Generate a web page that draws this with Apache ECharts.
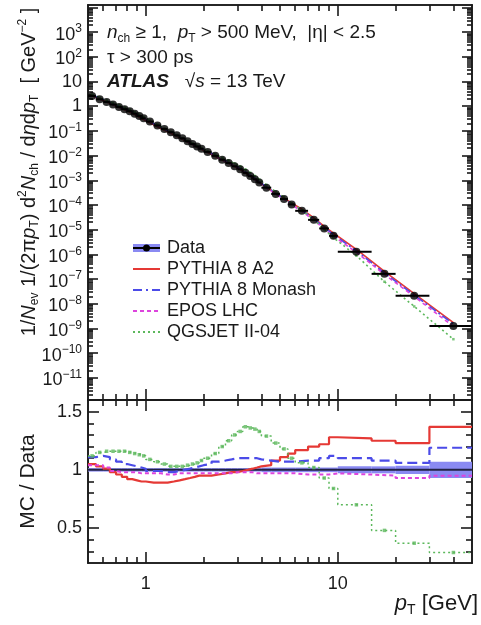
<!DOCTYPE html>
<html><head><meta charset="utf-8">
<script src="https://cdn.jsdelivr.net/npm/echarts@6.0.0/dist/echarts.min.js"></script>
<style>html,body{margin:0;padding:0;background:#fff;}#chart{width:481px;height:625px;}</style>
</head><body><div id="chart"></div>
<script>
// ---------------- data ----------------
const ptEdges = [0.5,0.55,0.6,0.65,0.7,0.75,0.8,0.85,0.9,0.95,1.0,1.1,1.2,1.3,1.4,1.5,1.6,1.7,1.8,1.9,2.0,2.2,2.4,2.6,2.8,3.0,3.2,3.4,3.6,3.8,4.0,4.5,5.0,5.5,6.0,7.0,8.0,9.0,10,15,20,30,50];
const dataVals = [2.6,1.91,1.48,1.17,0.93,0.76,0.63,0.50,0.40,0.324,
  0.24,0.166,0.12,0.089,0.066,0.050,0.038,0.0295,0.0234,0.019,
  0.0141,0.0098,0.0068,0.0050,0.0037,0.0028,0.0020,0.00148,0.0011,0.00081,
  0.0005,0.00028,0.000174,0.000105,
  5.8e-5,2.5e-5,1.12e-5,5.6e-6,
  1.26e-6,1.62e-7,2.1e-8,1.26e-9];
const ratioA2 = [1.05,1.03,1.01,0.98,0.96,0.94,0.92,0.91,0.90,0.90,
  0.89,0.89,0.89,0.90,0.91,0.92,0.93,0.94,0.95,0.95,
  0.95,0.96,0.97,0.98,0.98,0.99,1.00,1.01,1.02,1.03,
  1.04,1.08,1.11,1.14,
  1.17,1.20,1.22,1.28,
  1.27,1.25,1.23,1.37];
const ratioMonash = [1.11,1.12,1.11,1.09,1.07,1.05,1.04,1.03,1.02,1.01,
  0.99,0.99,0.98,0.98,0.99,1.00,1.01,1.02,1.03,1.04,
  1.05,1.07,1.08,1.09,1.10,1.10,1.10,1.10,1.10,1.09,
  1.08,1.07,1.07,1.07,
  1.08,1.08,1.10,1.12,
  1.10,1.08,1.06,1.19];
const ratioEPOS = [1.04,1.04,1.02,0.99,0.98,0.98,0.98,0.98,0.97,0.97,
  0.97,0.97,0.96,0.96,0.97,0.97,0.97,0.97,0.97,0.97,
  0.97,0.97,0.97,0.97,0.98,0.98,0.98,0.98,0.97,0.97,
  0.97,0.97,0.97,0.97,
  0.96,0.96,0.96,0.97,
  0.96,0.95,0.93,0.95];
const ratioQGSJET = [1.12,1.15,1.16,1.16,1.16,1.16,1.15,1.14,1.13,1.12,
  1.09,1.07,1.05,1.03,1.03,1.03,1.04,1.05,1.06,1.08,
  1.10,1.14,1.20,1.25,1.30,1.33,1.37,1.36,1.35,1.33,
  1.29,1.23,1.18,1.10,
  1.06,1.02,0.93,0.84,
  0.70,0.48,0.37,0.29];
const dataRelErr = [0.015,0.015,0.015,0.015,0.015,0.015,0.015,0.015,0.015,0.015,
  0.015,0.015,0.015,0.015,0.015,0.015,0.015,0.015,0.015,0.015,
  0.015,0.015,0.015,0.015,0.015,0.015,0.015,0.015,0.015,0.015,
  0.02,0.02,0.02,0.02,
  0.02,0.02,0.02,0.02,
  0.03,0.03,0.035,0.07];
const xMajorTicks = [1, 10];
const xMinorTicks = [0.6,0.7,0.8,0.9,2,3,4,5,6,7,8,9,20,30,40];
const ratioMajorTicks = [0.5, 1, 1.5];
const ratioMinorTicks = [0.3,0.4,0.6,0.7,0.8,0.9,1.1,1.2,1.3,1.4];
const legendNames = ['Data','PYTHIA 8 A2','PYTHIA 8 Monash','EPOS LHC','QGSJET II-04'];

// ---------------- styling ----------------
const FONT = 'Liberation Sans';
const INK = '#1a1a1a';
const C = {a2:'#e53935', monash:'#4b4be8', epos:'#dd44dd', qgs:'#5cb85c', band:'#8a8af2'};
const X_MIN = 0.5, X_MAX = 50;
const Y_MIN = Math.pow(10, -11.9), Y_MAX = Math.pow(10, 4.1);

const centers = dataVals.map((_, i) => (ptEdges[i] + ptEdges[i + 1]) / 2);
const yTopMajor = []; for (let k = -11; k <= 4; k++) yTopMajor.push(Math.pow(10, k));
const yTopLabels = yTopMajor.filter(v => v < 1e4);
const yTopMinor = [];
for (let k = -12; k <= 4; k++) for (let m = 2; m <= 9; m++) { const v = m * Math.pow(10, k); if (v > Y_MIN && v < Y_MAX) yTopMinor.push(v); }

function stepData(vals) { const out = []; vals.forEach((v, i) => { out.push([ptEdges[i], v]); out.push([ptEdges[i + 1], v]); }); return out; }

function xAxisDef(grid, pos, ticks, len, labels) {
  return {type:'log', logBase:10, gridIndex:grid, position:pos, min:X_MIN, max:X_MAX,
    axisLine:{show:true, onZero:false, lineStyle:{color:INK, width:1.6}},
    axisTick:{show:true, inside:true, length:len, customValues:ticks, lineStyle:{color:INK, width:1.6}},
    axisLabel: labels ? {show:true, customValues:labels, margin:12, fontSize:18, fontFamily:FONT, color:INK, formatter: v => String(v)} : {show:false},
    splitLine:{show:false}, minorTick:{show:false}, minorSplitLine:{show:false}};
}
const supRich = {
  b:{fontSize:18, fontFamily:FONT, color:INK, lineHeight:18, padding:[5,0,0,0]},
  s:{fontSize:12, fontFamily:FONT, color:INK, lineHeight:12, verticalAlign:'top'}
};
function topLabel(v) {
  const k = Math.round(Math.log10(v));
  if (k === 0) return '1';
  if (k === 1) return '10';
  return '{b|10}{s|' + (k < 0 ? '\u2212' : '') + Math.abs(k) + '}';
}
function yTopDef(pos, ticks, len, labels) {
  return {type:'log', logBase:10, gridIndex:0, position:pos, min:Y_MIN, max:Y_MAX,
    axisLine:{show:true, onZero:false, lineStyle:{color:INK, width:1.6}},
    axisTick:{show:true, inside:true, length:len, customValues:ticks, lineStyle:{color:INK, width:1.6}},
    axisLabel: labels ? {show:true, customValues:labels, margin:6, fontSize:18, fontFamily:FONT, color:INK, formatter:topLabel, rich:supRich} : {show:false},
    splitLine:{show:false}, minorTick:{show:false}, minorSplitLine:{show:false}};
}
function yRatioDef(pos, ticks, len, labels) {
  const ax = {type:'value', gridIndex:1, position:pos, min:0.2, max:1.6,
    axisLine:{show:true, onZero:false, lineStyle:{color:INK, width:1.6}},
    axisTick:{show:true, inside:true, length:len, customValues:ticks, lineStyle:{color:INK, width:1.6}},
    axisLabel: labels ? {show:true, customValues:labels, margin:6, fontSize:18, fontFamily:FONT, color:INK, formatter: v => String(v)} : {show:false},
    splitLine:{show:false}, minorTick:{show:false}, minorSplitLine:{show:false}};
  if (labels) {
    ax.name = 'MC / Data'; ax.nameLocation = 'middle'; ax.nameGap = 49; ax.nameRotate = 90;
    ax.nameTextStyle = {fontSize:21, fontFamily:FONT, color:INK};
  }
  return ax;
}

const xAxes = [
  xAxisDef(0,'bottom',xMajorTicks,11,null), xAxisDef(0,'bottom',xMinorTicks,6,null),
  xAxisDef(0,'top',xMajorTicks,11,null), xAxisDef(0,'top',xMinorTicks,6,null),
  xAxisDef(1,'bottom',xMajorTicks,11,xMajorTicks), xAxisDef(1,'bottom',xMinorTicks,6,null),
  xAxisDef(1,'top',xMajorTicks,11,null), xAxisDef(1,'top',xMinorTicks,6,null)
];
const yAxes = [
  yTopDef('left',yTopMajor,10,yTopLabels), yTopDef('left',yTopMinor,5,null),
  yTopDef('right',yTopMajor,10,null), yTopDef('right',yTopMinor,5,null),
  yRatioDef('left',ratioMajorTicks,11,ratioMajorTicks), yRatioDef('left',ratioMinorTicks,6,null),
  yRatioDef('right',ratioMajorTicks,11,null), yRatioDef('right',ratioMinorTicks,6,null)
];

const models = [
  {name:'PYTHIA 8 A2', r:ratioA2, color:C.a2, dash:'solid', topDash:'solid', w:2.2},
  {name:'PYTHIA 8 Monash', r:ratioMonash, color:C.monash, dash:[10,5], topDash:[8,3,2,3], w:2.2},
  {name:'EPOS LHC', r:ratioEPOS, color:C.epos, dash:[4,3], topDash:[4,3], w:2},
  {name:'QGSJET II-04', r:ratioQGSJET, color:C.qgs, dash:[2,3], topDash:[2,3], w:1.5}
];

const series = [];
// top panel: MC predictions (MC = Data x (MC/Data))
models.forEach(m => {
  series.push({type:'line', name:m.name, xAxisIndex:0, yAxisIndex:0, showSymbol:false, silent:true,
    data: centers.map((c, i) => [c, dataVals[i] * m.r[i]]),
    lineStyle:{color:m.color, width:1.6, type:m.topDash}, z:3});
});
series.push({type:'scatter', xAxisIndex:0, yAxisIndex:0, symbol:'rect', symbolSize:2.5, silent:true,
  data: centers.map((c, i) => [c, dataVals[i] * ratioQGSJET[i]]), itemStyle:{color:C.qgs}, z:3});
// top panel: data x-error bars
series.push({type:'custom', xAxisIndex:0, yAxisIndex:0, silent:true, z:4,
  data: dataVals.map((v, i) => [ptEdges[i], ptEdges[i + 1], v]),
  encode:{x:[0,1], y:2},
  renderItem: (p, api) => {
    const a = api.coord([api.value(0), api.value(2)]), b = api.coord([api.value(1), api.value(2)]);
    return {type:'line', shape:{x1:a[0], y1:a[1], x2:b[0], y2:b[1]}, style:{stroke:'#000', lineWidth:2}};
  }});
// top panel: data points
series.push({type:'scatter', name:'Data', xAxisIndex:0, yAxisIndex:0, symbol:'circle', symbolSize:8, silent:true,
  data: centers.map((c, i) => [c, dataVals[i]]), itemStyle:{color:'#000'}, z:5});

// ratio panel: data uncertainty band
series.push({type:'custom', xAxisIndex:4, yAxisIndex:4, silent:true, z:2,
  data: dataVals.map((v, i) => [ptEdges[i], ptEdges[i + 1], v / dataVals[i], dataRelErr[i]]),
  encode:{x:[0,1], y:2},
  renderItem: (p, api) => {
    const c = api.value(2), e = api.value(3);
    const a = api.coord([api.value(0), c + e]), b = api.coord([api.value(1), c - e]);
    return {type:'rect', shape:{x:a[0], y:a[1], width:b[0] - a[0], height:b[1] - a[1]}, style:{fill:C.band}};
  }});
// ratio panel: data line at 1
series.push({type:'line', xAxisIndex:4, yAxisIndex:4, showSymbol:false, silent:true, z:3,
  data: stepData(dataVals.map(v => v / v)), lineStyle:{color:'#222244', width:2}});
// ratio panel: MC / Data histograms
models.forEach(m => {
  series.push({type:'line', xAxisIndex:4, yAxisIndex:4, showSymbol:false, silent:true, z:4,
    data: stepData(m.r), lineStyle:{color:m.color, width:m.w, type:m.dash}});
});
series.push({type:'scatter', xAxisIndex:4, yAxisIndex:4, symbol:'rect', symbolSize:3.5, silent:true, z:4,
  data: centers.map((c, i) => [c, ratioQGSJET[i]]), itemStyle:{color:C.qgs}});

// ---------------- texts & legend ----------------
function rich(fs) {
  return {
    n:{fontSize:fs, fontFamily:FONT, color:INK, lineHeight:fs + 4},
    i:{fontSize:fs, fontFamily:FONT, color:INK, fontStyle:'italic', lineHeight:fs + 4},
    bi:{fontSize:fs, fontFamily:FONT, color:INK, fontStyle:'italic', fontWeight:'bold', lineHeight:fs + 4},
    sub:{fontSize:Math.round(fs * 0.62), fontFamily:FONT, color:INK, verticalAlign:'bottom', lineHeight:Math.round(fs * 0.62)},
    sup:{fontSize:Math.round(fs * 0.62), fontFamily:FONT, color:INK, verticalAlign:'top', lineHeight:Math.round(fs * 0.62)}
  };
}
function txt(x, y, text, fs, align, rot) {
  const el = {type:'text', x:x, y:y, silent:true, z:50,
    style:{text:text, rich:rich(fs), fontSize:fs, fontFamily:FONT, fill:INK, align:align || 'left', verticalAlign:'middle'}};
  if (rot) el.rotation = rot;
  return el;
}
const legendRows = [248, 269, 290, 311, 332];
const LX0 = 133, LX1 = 160, LTX = 167;
const graphic = [
  txt(107, 33, '{i|n}{sub|ch}{n| \u2265 1,  }{i|p}{sub|T}{n| > 500 MeV,  |\u03b7| < 2.5}', 19),
  txt(107, 58, '{n|\u03c4 > 300 ps}', 19),
  txt(107, 82, '{bi|ATLAS}{n|   \u221a}{i|s}{n| = 13 TeV}', 19),
  txt(29, 172, '{n|1/}{i|N}{sub|ev}{n| 1/(2\u03c0}{i|p}{sub|T}{n|) d}{sup|2}{i|N}{sub|ch}{n| / d}{i|\u03b7}{n|d}{i|p}{sub|T}{n|  [ GeV}{sup|\u22122}{n| ]}', 20, 'center', Math.PI / 2),
  txt(478, 604, '{i|p}{sub|T}{n| [GeV]}', 22, 'right'),
  // legend symbols
  {type:'rect', silent:true, z:50, shape:{x:LX0, y:legendRows[0] - 4, width:LX1 - LX0, height:8}, style:{fill:C.band}},
  {type:'line', silent:true, z:51, shape:{x1:LX0, y1:legendRows[0], x2:LX1, y2:legendRows[0]}, style:{stroke:'#000', lineWidth:2}},
  {type:'circle', silent:true, z:52, shape:{cx:(LX0 + LX1) / 2, cy:legendRows[0], r:3.5}, style:{fill:'#000'}},
  {type:'line', silent:true, z:50, shape:{x1:LX0, y1:legendRows[1], x2:LX1, y2:legendRows[1]}, style:{stroke:C.a2, lineWidth:2}},
  {type:'line', silent:true, z:50, shape:{x1:LX0, y1:legendRows[2], x2:LX1, y2:legendRows[2]}, style:{stroke:C.monash, lineWidth:2, lineDash:[9,4,2,4]}},
  {type:'line', silent:true, z:50, shape:{x1:LX0, y1:legendRows[3], x2:LX1, y2:legendRows[3]}, style:{stroke:C.epos, lineWidth:2, lineDash:[4,3]}},
  {type:'line', silent:true, z:50, shape:{x1:LX0, y1:legendRows[4], x2:LX1, y2:legendRows[4]}, style:{stroke:C.qgs, lineWidth:2, lineDash:[2,3]}}
];
legendNames.forEach((n, i) => graphic.push(txt(LTX, legendRows[i], '{n|' + n + '}', 18)));

const chart = echarts.init(document.getElementById('chart'), null, {renderer:'canvas'});
chart.setOption({
  animation:false,
  backgroundColor:'#fff',
  grid:[{left:88, top:5, width:384, height:395, outerBoundsMode:'none'},
        {left:88, top:400, width:384, height:163, outerBoundsMode:'none'}],
  xAxis:xAxes, yAxis:yAxes, series:series, graphic:graphic
});
</script></body></html>
